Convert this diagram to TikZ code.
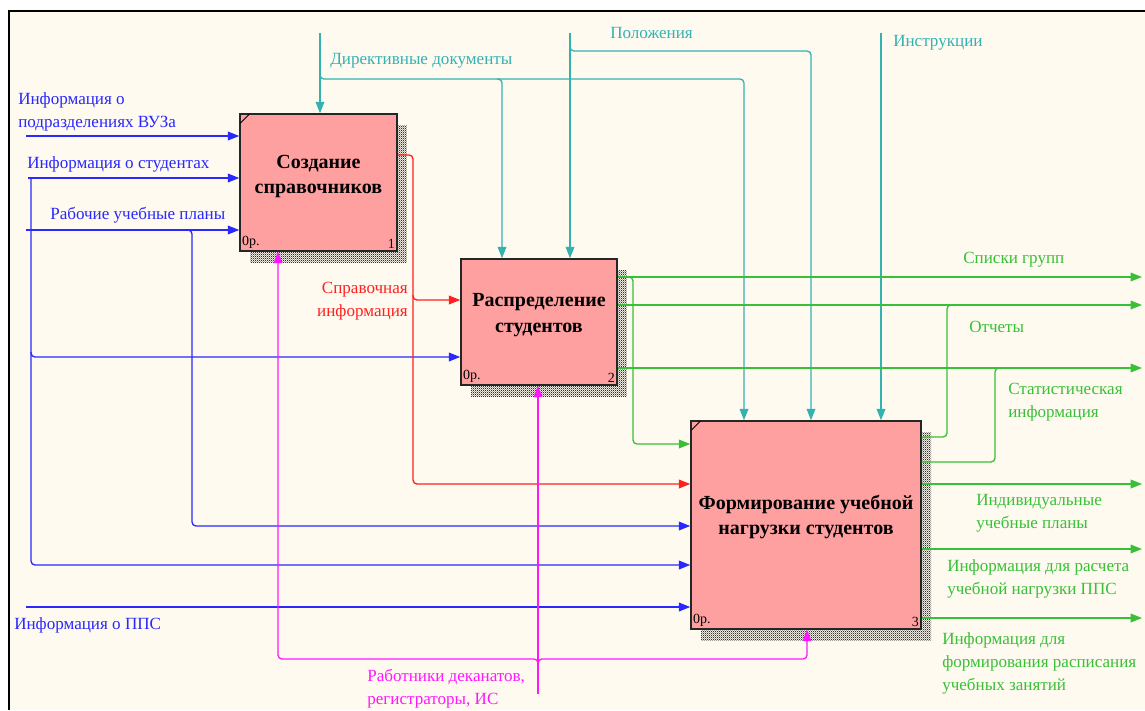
\documentclass[tikz,border=0pt]{standalone}
\usepackage{fontspec}
\setmainfont{Liberation Serif}
\usepackage{tikz}
\usetikzlibrary{arrows.meta,positioning,patterns,shadows}
\definecolor{idefpink}{HTML}{FFA0A0}
\definecolor{idefcream}{HTML}{FFFAEF}
\definecolor{ctrl}{HTML}{33B2B2}
\definecolor{inp}{HTML}{2828FF}
\definecolor{outp}{HTML}{38C038}
\definecolor{mech}{HTML}{FF18FF}
\definecolor{refr}{HTML}{FF2020}
\pgfdeclarepatternformonly{idefhatch}{\pgfpointorigin}{\pgfpoint{1.6pt}{1.6pt}}{\pgfpoint{1.6pt}{1.6pt}}{
  \pgfpathrectangle{\pgfpointorigin}{\pgfpoint{0.8pt}{0.8pt}}
  \pgfpathrectangle{\pgfpoint{0.8pt}{0.8pt}}{\pgfpoint{0.8pt}{0.8pt}}
  \pgfusepath{fill}
}
\tikzset{
    func/.style={
      rectangle,
      draw=black!85, line width=1.1pt,
      fill=idefpink,
      general shadow={shadow xshift=7.5pt, shadow yshift=-8.25pt,
        pattern=idefhatch, pattern color=black!80},
      inner sep=0pt,
    },
    ftext/.style={align=center, font=\fontsize{15}{19}\selectfont\bfseries},
    corner/.style={font=\fontsize{10.5}{11}\selectfont, inner sep=2pt},
    lbl/.style={anchor=west, align=left, inner sep=0pt,
      font=\fontsize{12.8}{17.25}\selectfont},
    flow/.style={line width=1pt, rounded corners=3pt,
      -{Triangle[length=8.5pt,width=6.5pt]}},
    tap/.style={line width=1pt, rounded corners=3pt},
}
\begin{document}
\begin{tikzpicture}[x=0.75pt,y=-0.75pt]

    \useasboundingbox (0,0) rectangle (1145,710);
    \fill[white] (0,0) rectangle (1145,710);
    \fill[idefcream] (9,11) rectangle (1145,710);
    \draw[line width=1.8pt] (9,710) -- (9,11) -- (1145,11);

    % activity boxes
    \node[func, minimum width=117.75pt, minimum height=102.75pt]
      (CREATE) at (318.5,182.5) {};
    \node[func, minimum width=117pt, minimum height=94.5pt]
      (DISTRIB) at (539,322) {};
    \node[func, minimum width=172.5pt, minimum height=156pt]
      (FORM) at (806,525) {};

    \node[ftext] at ([shift={(0,-6)}]CREATE.center) {Создание\\справочников};
    \node[ftext] at ([shift={(0,-7)}]DISTRIB.center) {Распределение\\студентов};
    \node[ftext] at ([shift={(0,-8)}]FORM.center) {Формирование учебной\\нагрузки студентов};

    \foreach \b/\n in {CREATE/1, DISTRIB/2, FORM/3} {
      \node[corner, anchor=south west] at (\b.south west) {0р.};
      \node[corner, anchor=south east] at (\b.south east) {\n};
    }
    \foreach \b in {CREATE, FORM}
      \draw[line width=0.6pt] ([shift={(1,10)}]\b.north west) -- ([shift={(10,1)}]\b.north west);

    % free ends and bends
    \coordinate (dirIn) at (320,33);
    \coordinate (dirRow) at (320,79);
    \coordinate (dirCol2) at (502,79);
    \coordinate (dirCol3) at (744,79);
    \coordinate (posIn) at (570,33);
    \coordinate (posRow) at (570,51);
    \coordinate (posCol3) at (811,51);
    \coordinate (insIn) at (881,33);

    \coordinate (deptIn) at (26,136);
    \coordinate (studIn) at (28,178);
    \coordinate (studBend) at (31,178);
    \coordinate (studMid) at (31,357);
    \coordinate (studLow) at (31,565);
    \coordinate (planIn) at (26,230);
    \coordinate (planBend) at (192,230);
    \coordinate (planLow) at (192,526);
    \coordinate (ppsIn) at (26,607);

    \coordinate (refBend) at (413,155);
    \coordinate (refMid) at (413,300);
    \coordinate (refLow) at (413,484);

    \coordinate (staffIn) at (538,694);
    \coordinate (staffJ) at (538,659);
    \coordinate (staffL) at (278,659);
    \coordinate (staffR) at (807,659);

    \coordinate (grpOut) at (1142,277);
    \coordinate (grpBend) at (633,277);
    \coordinate (grpLow) at (633,444);
    \coordinate (repOut) at (1142,305);
    \coordinate (repHi) at (947,305);
    \coordinate (repLow) at (947,437);
    \coordinate (statOut) at (1142,368);
    \coordinate (statHi) at (995,368);
    \coordinate (statLow) at (995,462);
    \coordinate (indOut) at (1142,484);
    \coordinate (ppsOut) at (1142,549);
    \coordinate (schedOut) at (1142,618);

    % controls
    \path[flow, ctrl]
    (dirIn) edge (dirIn |- CREATE.north)
    (posIn) edge (posIn |- DISTRIB.north)
    (insIn) edge (insIn |- FORM.north);
    \draw[flow, ctrl] (dirRow) ++(0,-5) -- (dirRow) -- (dirCol3) -- (dirCol3 |- FORM.north);
    \draw[flow, ctrl] (dirCol2) ++(-5,0) -- (dirCol2) -- (dirCol2 |- DISTRIB.north);
    \draw[flow, ctrl] (posRow) ++(0,-5) -- (posRow) -- (posCol3) -- (posCol3 |- FORM.north);

    % inputs
    \path[flow, inp]
    (deptIn) edge (deptIn -| CREATE.west)
    (studIn) edge (studIn -| CREATE.west)
    (planIn) edge (planIn -| CREATE.west)
    (ppsIn) edge (ppsIn -| FORM.west);
    \draw[flow, inp] (studBend) -- (studLow) -- (studLow -| FORM.west);
    \draw[flow, inp] (studMid) ++(0,-5) -- (studMid) -- (studMid -| DISTRIB.west);
    \draw[flow, inp] (planBend) ++(-5,0) -- (planBend) -- (planLow) -- (planLow -| FORM.west);

    % reference data
    \draw[flow, refr] (refBend -| CREATE.east) -- (refBend) -- (refLow) -- (refLow -| FORM.west);
    \draw[flow, refr] (refMid) ++(0,-5) -- (refMid) -- (refMid -| DISTRIB.west);

    % mechanisms
    \draw[flow, mech] (staffIn) -- (staffIn |- DISTRIB.south);
    \draw[flow, mech] (staffJ) ++(0,4) -- (staffJ) -- (staffL) -- (staffL |- CREATE.south);
    \draw[flow, mech] (staffJ) ++(0,4) -- (staffJ) -- (staffR) -- (staffR |- FORM.south);

    % outputs
    \path[flow, outp]
    (grpOut -| DISTRIB.east) edge (grpOut)
    (repOut -| DISTRIB.east) edge (repOut)
    (statOut -| DISTRIB.east) edge (statOut)
    (indOut -| FORM.east) edge (indOut)
    (ppsOut -| FORM.east) edge (ppsOut)
    (schedOut -| FORM.east) edge (schedOut);
    \draw[flow, outp] (grpBend) ++(-5,0) -- (grpBend) -- (grpLow) -- (grpLow -| FORM.west);
    \draw[tap, outp] (repLow -| FORM.east) -- (repLow) -- (repHi) -- ++(5,0);
    \draw[tap, outp] (statLow -| FORM.east) -- (statLow) -- (statHi) -- ++(5,0);

    % labels
    \node[lbl, ctrl] (dirText) at (330,61) {Директивные документы};
    \node[lbl, ctrl] (posText) at (610,33) {Положения};
    \node[lbl, ctrl] (insText) at (893,43) {Инструкции};

    \node[lbl, inp] (deptText) at (18,111.5) {Информация о\\подразделениях ВУЗа};
    \node[lbl, inp] (studText) at (27,164) {Информация о студентах};
    \node[lbl, inp] (planText) at (50,215) {Рабочие учебные планы};
    \node[lbl, inp] (ppsText) at (14,625) {Информация о ППС};

    \node[lbl, refr, anchor=east, align=right] (refText) at (408,301.5) {Справочная\\информация};
    \node[lbl, mech] (staffText) at (367,688.5) {Работники деканатов,\\регистраторы, ИС};

    \node[lbl, outp] (grpText) at (963,260) {Списки групп};
    \node[lbl, outp] (repText) at (969,327) {Отчеты};
    \node[lbl, outp] (statText) at (1008,402) {Статистическая\\информация};
    \node[lbl, outp] (indText) at (976,513.5) {Индивидуальные\\учебные планы};
    \node[lbl, outp] (ppsOutText) at (947,579) {Информация для расчета\\учебной нагрузки ППС};
    \node[lbl, outp] (schedText) at (942,663) {Информация для\\формирования расписания\\учебных занятий};

\end{tikzpicture}
\end{document}
